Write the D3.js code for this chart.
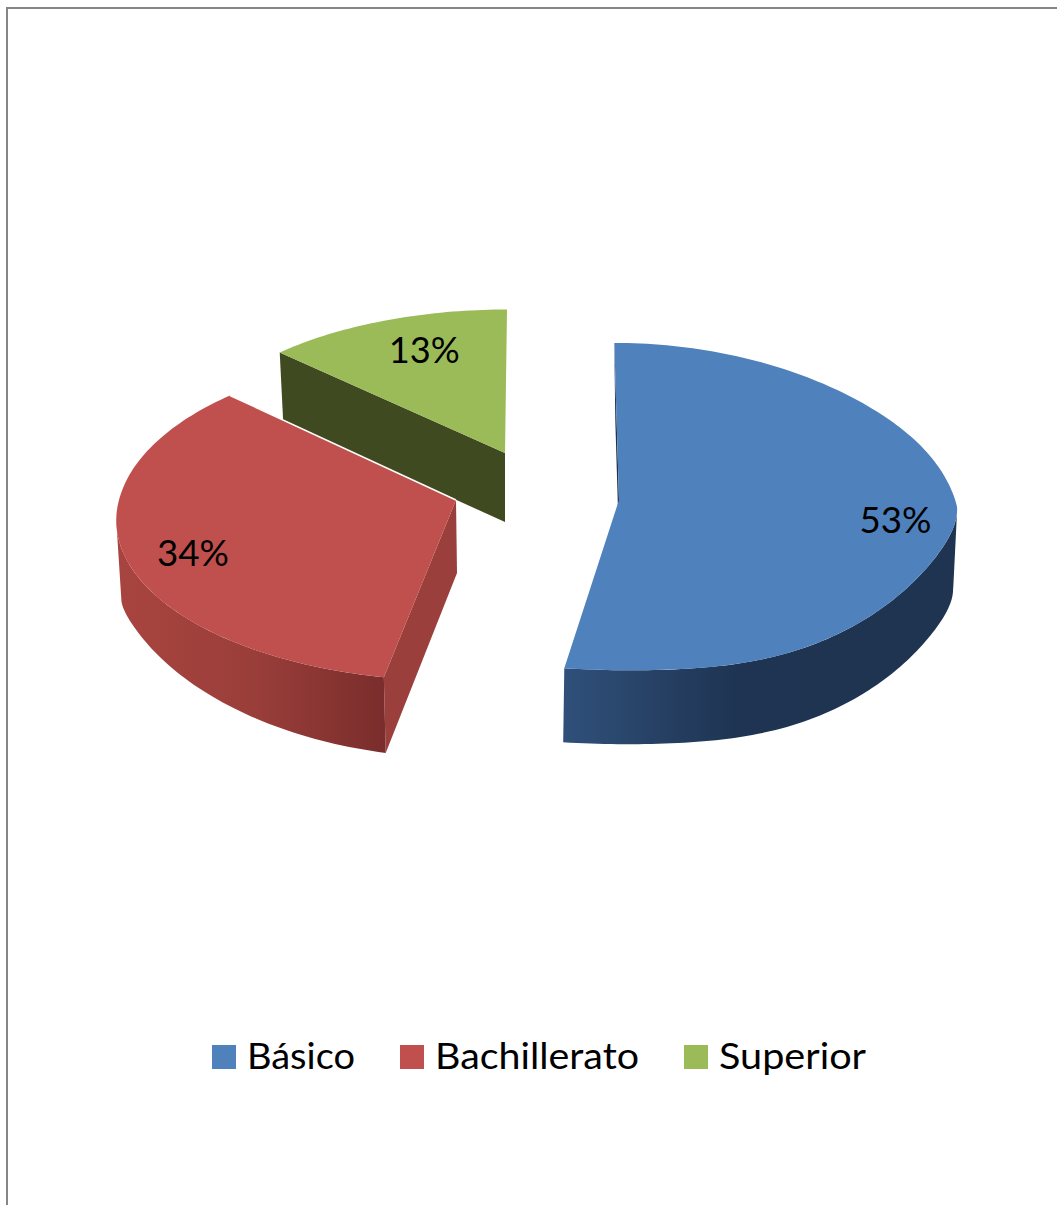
<!DOCTYPE html>
<html>
<head>
<meta charset="utf-8">
<script src="https://d3js.org/d3.v7.min.js"></script>
<style>
  html, body { margin: 0; padding: 0; background: #fff; }
  svg { display: block; }
  text { font-family: Lato, "Open Sans", sans-serif; fill: #000; }
</style>
</head>
<body>
<svg id="chart" width="1057" height="1205"></svg>
<script>
// Nivel de estudios: pastel 3D con porciones separadas
const categories = ["Básico", "Bachillerato", "Superior"];
const shares = [53, 34, 13];
const shareLabels = ["53%", "34%", "13%"];

const topColors = ["#4f81bd", "#c0504d", "#9bbb59"];
const radialWallColors = ["#1d3350", "#9a3f3b", "#404a21"];

// Perspective frame of each exploded slice: top and bottom discs in screen space.
// ryB/ryF are the back and front half-heights, qB/qF sharpen the arcs near the sides,
// flat eases the front of the rim, shearB/shearF lean it toward the vanishing point,
// sag drops the widest point of the disc.
const frames = [
  { top: { cx: 619, cy: 500, rx: 338, ryB: 161, ryF: 181, p: 0.025, qB: 1.23, qF: 1.2, flat: 15, shearB: 0.03, shearF: 0.07, sag: 8 },
    bottom: { cx: 620, cy: 577, rx: 333, ryB: 161, ryF: 178, p: 0.025, qB: 1.23, qF: 1.2, flat: 15, shearB: 0.03, shearF: 0.05, sag: 10 },
    label: { r: 0.82, dy: 11 }, textWidth: 72 },
  { top: { cx: 456, cy: 500, rx: 337, ryB: 166, ryF: 158, p: 0.127, qB: 1, qF: 1, flat: 0, shearB: 0, shearF: 0, sag: 0 },
    bottom: { cx: 457, cy: 573, rx: 333, ryB: 166, ryF: 161, p: 0.127, qB: 1, qF: 1.25, flat: 0, shearB: 0, shearF: 0, sag: 16 },
    label: { r: 0.795, dy: 13 }, textWidth: 72 },
  { top: { cx: 505, cy: 453, rx: 328, ryB: 155, ryF: 155, p: 0.08, qB: 1, qF: 1, flat: 0, shearB: -0.014, shearF: 0, sag: 0 },
    bottom: { cx: 505, cy: 522, rx: 323, ryB: 155, ryF: 155, p: 0.08, qB: 1, qF: 1, flat: 0, shearB: -0.014, shearF: 0, sag: 0 },
    label: { r: 0.66, dy: -14 }, textWidth: 71 }
];

const svg = d3.select("#chart");

// Outer wall shading
const defs = svg.append("defs");
function wallGradient(id, x1, x2, stops) {
  const g = defs.append("linearGradient")
    .attr("id", id).attr("gradientUnits", "userSpaceOnUse")
    .attr("x1", x1).attr("x2", x2).attr("y1", 0).attr("y2", 0);
  stops.forEach(([o, c]) => g.append("stop").attr("offset", o).attr("stop-color", c));
}
wallGradient("wall-0", 562, 952, [[0, "#30507a"], [0.45, "#1e3452"], [1, "#1f3450"]]);
wallGradient("wall-1", 122, 386, [[0, "#a8443f"], [0.5, "#9a3e3a"], [1, "#792d2c"]]);

// Chart frame
svg.append("path")
  .attr("d", d3.line()([[7, 1205], [7, 8], [1057, 8]]))
  .attr("fill", "none").attr("stroke", "#868686").attr("stroke-width", 2);

const slices = d3.pie().sort(null).value(d => d)(shares);

function project(f, theta, r = 1) {
  const X = Math.sin(theta) * r, Z = Math.cos(theta) * r;
  const s = 1 / (1 + f.p * Z);
  const back = Z >= 0;
  const bend = Math.pow(Math.abs(Z), back ? f.qB : f.qF);
  const ease = Math.pow(Z, 8);
  const drop = f.sag * Math.pow(X, 24);
  const dy = back
    ? -f.ryB * bend * s + drop
    : (f.ryF * bend - f.flat * ease) * s + drop;
  const lean = back ? f.shearB : f.shearF * ease;
  return [f.cx + f.rx * X * s + lean * dy, f.cy + dy];
}

function rim(f, a0, a1) {
  const n = Math.max(2, Math.ceil((a1 - a0) / 0.02));
  return d3.range(n + 1).map(i => project(f, a0 + (a1 - a0) * i / n));
}

// Angle of the disc's widest point on each side: the outer wall is seen between them
const sweep = d3.range(0, Math.PI, 0.005);
const rightmost = f => d3.greatest(sweep, a => project(f, a)[0]);
const leftmost = f => d3.least(sweep.map(a => a + Math.PI), a => project(f, a)[0]);

const line = d3.line();
const closed = pts => line(pts) + "Z";

// Painted back to front: green, blue, red
[2, 0, 1].forEach(i => {
  const { startAngle: a0, endAngle: a1 } = slices[i];
  const f = frames[i];
  const g = svg.append("g").attr("class", "slice-" + i);
  const topApex = [f.top.cx, f.top.cy], botApex = [f.bottom.cx, f.bottom.cy];

  // Radial wall at the slice's start: the other one always faces away
  g.append("path")
    .attr("d", closed([topApex, project(f.top, a0), project(f.bottom, a0), botApex]))
    .attr("fill", radialWallColors[i]);

  // Outer curved wall, only where it faces the viewer
  const frontRim = d => rim(d, Math.max(a0, rightmost(d)), Math.min(a1, leftmost(d)));
  if (Math.max(a0, rightmost(f.top)) < Math.min(a1, leftmost(f.top))) {
    g.append("path")
      .attr("d", closed(frontRim(f.top).concat(frontRim(f.bottom).reverse())))
      .attr("fill", `url(#wall-${i})`);
  }

  // Top face
  g.append("path")
    .attr("d", closed([topApex].concat(rim(f.top, a0, a1))))
    .attr("fill", topColors[i]);
});

// Light edge separating the red slice from the green wall
svg.append("path")
  .attr("d", line([[frames[1].top.cx, frames[1].top.cy], project(frames[1].top, slices[1].endAngle)]))
  .attr("stroke", "#fff").attr("stroke-width", 1.5).attr("fill", "none");

// Percentage labels
slices.forEach((s, i) => {
  const f = frames[i];
  const [x, y] = project(f.top, (s.startAngle + s.endAngle) / 2, f.label.r);
  svg.append("text")
    .attr("x", x).attr("y", y + f.label.dy)
    .attr("dy", "0.35em")
    .attr("text-anchor", "middle")
    .attr("font-size", 37.5)
    .attr("textLength", f.textWidth)
    .attr("lengthAdjust", "spacingAndGlyphs")
    .text(shareLabels[i]);
});

// Legend
const legendX = [212, 400, 684];
const legendTextWidth = [108, 204, 147];
const legend = svg.append("g").attr("class", "legend");
categories.forEach((c, i) => {
  legend.append("rect")
    .attr("x", legendX[i]).attr("y", 1045)
    .attr("width", 24).attr("height", 24)
    .attr("fill", topColors[i]);
  legend.append("text")
    .attr("x", legendX[i] + 35).attr("y", 1069)
    .attr("font-size", 37.5)
    .attr("textLength", legendTextWidth[i])
    .attr("lengthAdjust", "spacingAndGlyphs")
    .text(c);
});
</script>
</body>
</html>
